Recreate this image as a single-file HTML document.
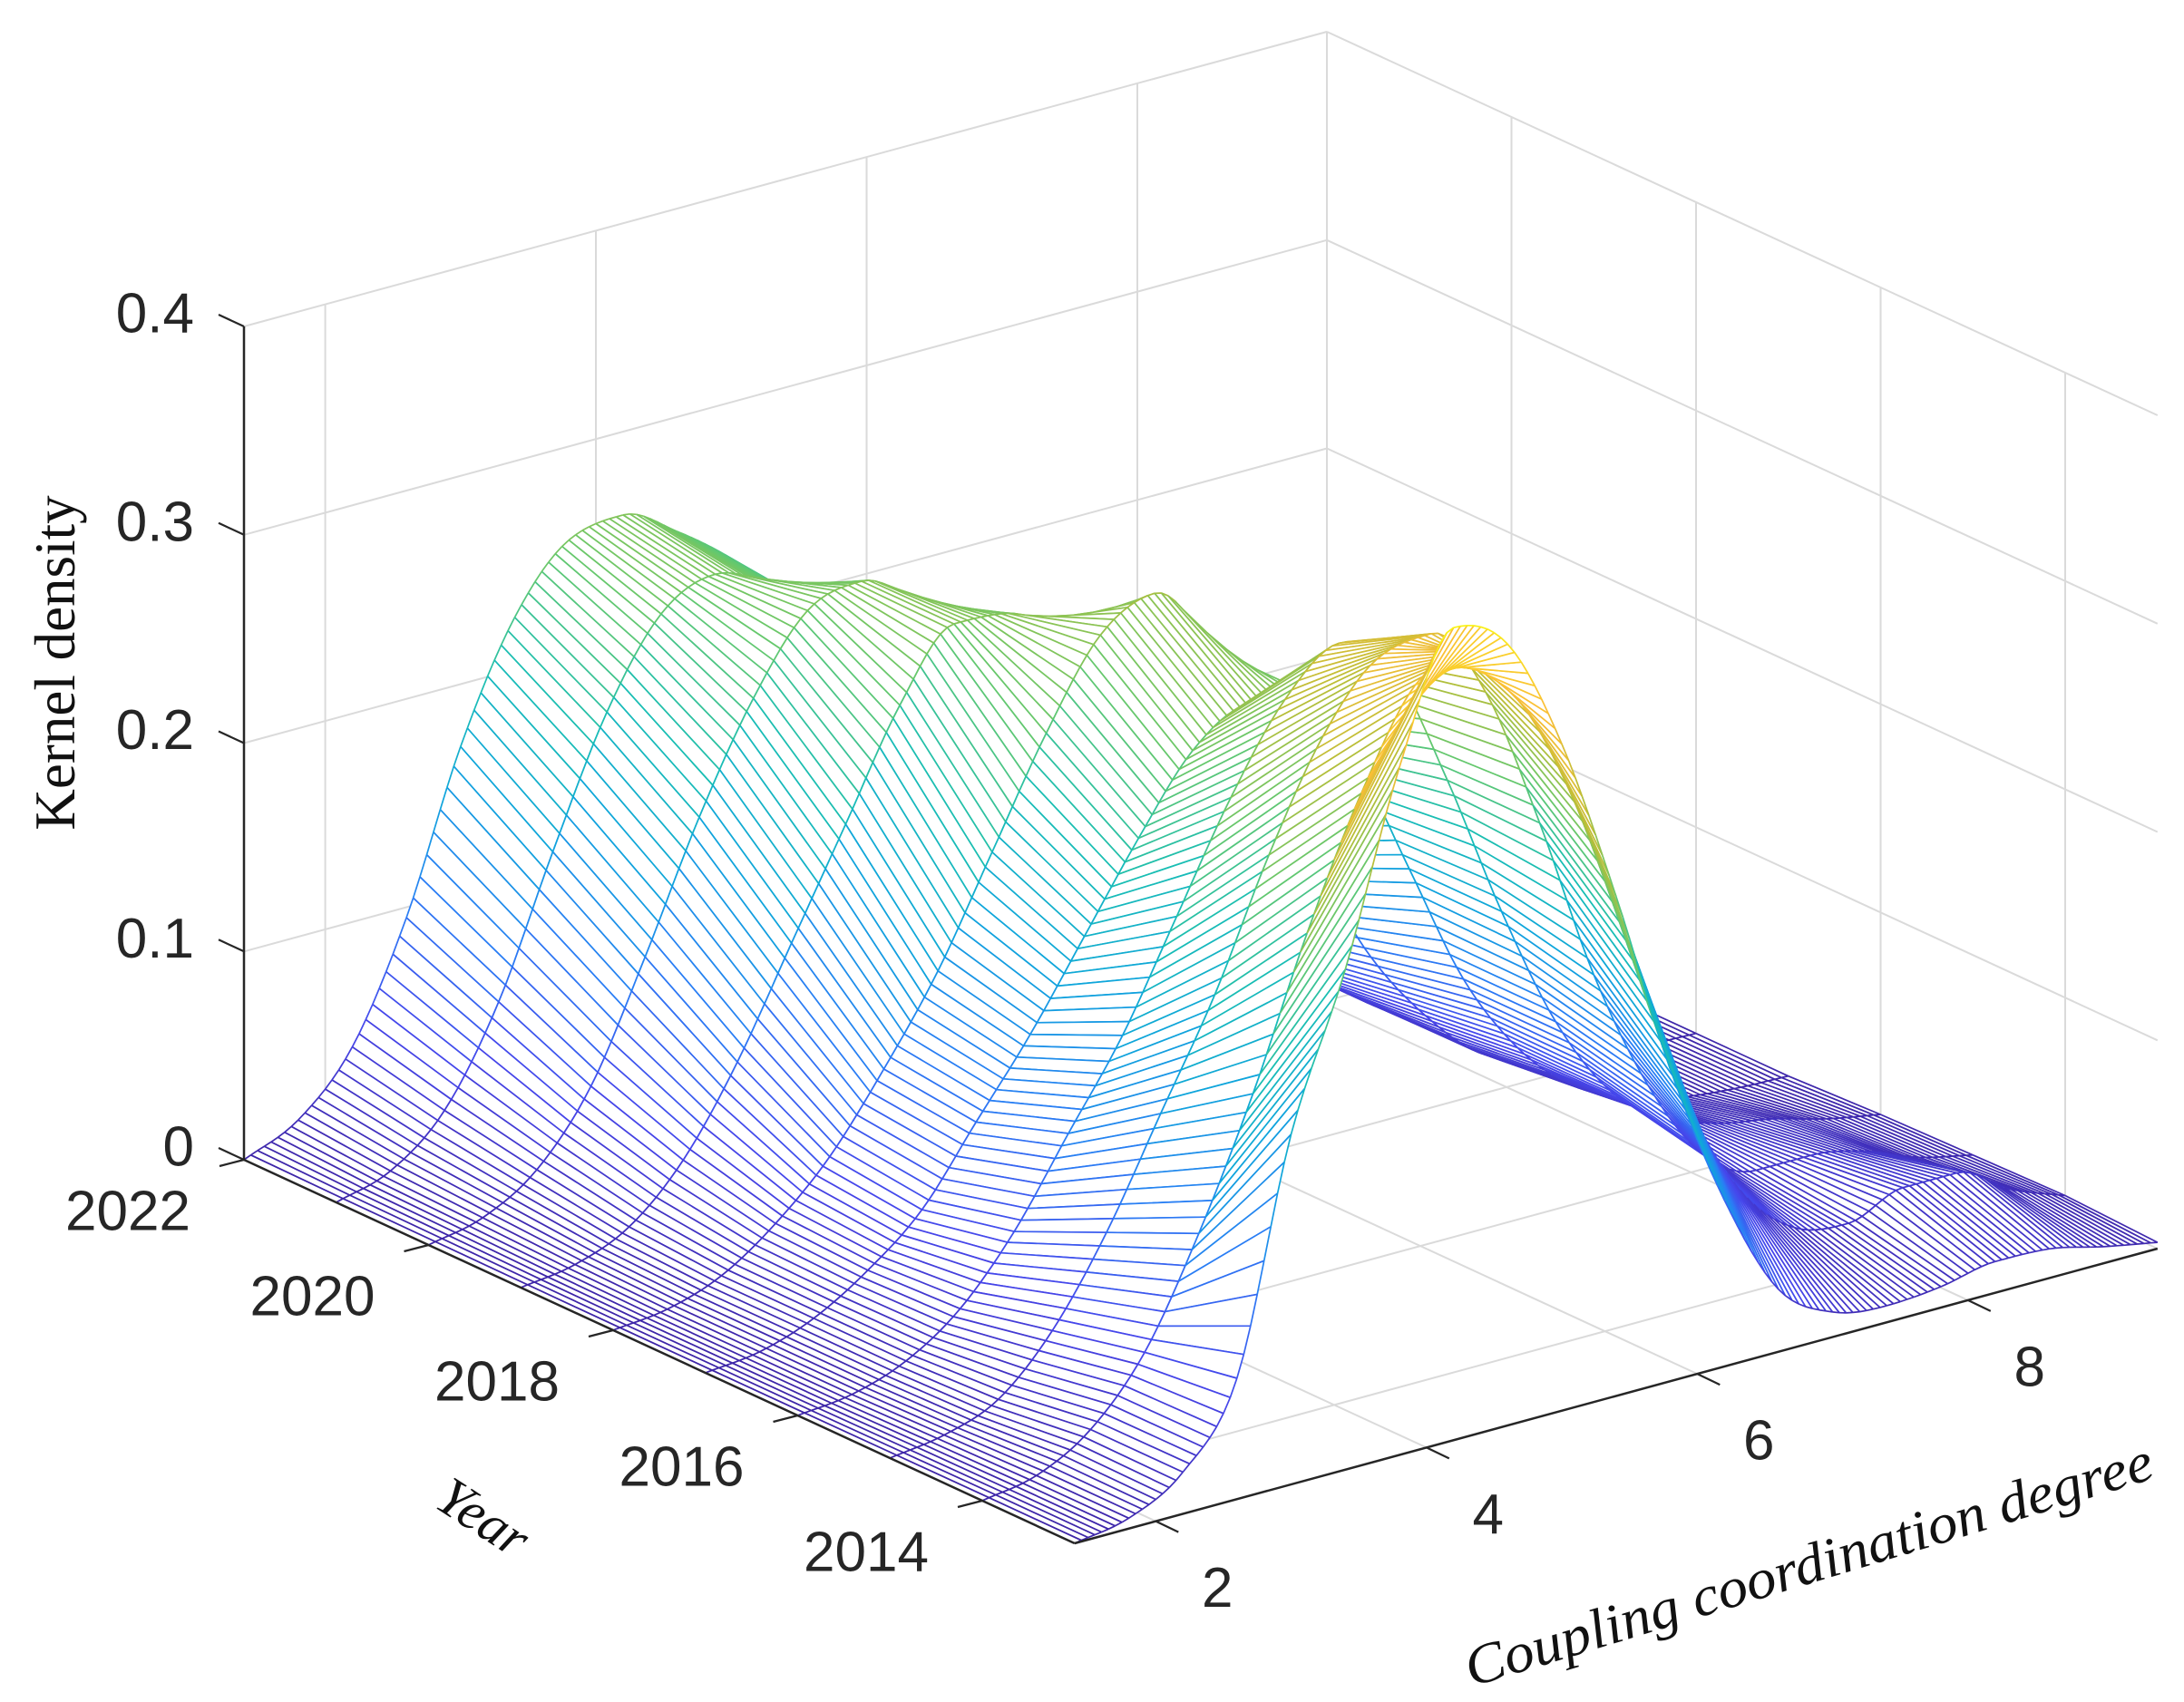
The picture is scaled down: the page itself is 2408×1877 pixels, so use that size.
<!DOCTYPE html>
<html>
<head>
<meta charset="utf-8">
<style>
  html,body{margin:0;padding:0;background:#fff;}
  svg{display:block;}
  .tick{font-family:"Liberation Sans",Arial,sans-serif;font-size:62px;fill:#262626;}
  .lab{font-family:"Liberation Serif","Times New Roman",serif;fill:#111;}
</style>
</head>
<body>
<svg id="chart" xmlns="http://www.w3.org/2000/svg" width="2408" height="1877" viewBox="0 0 2408 1877">
  <rect x="0" y="0" width="2408" height="1877" fill="#fff"/>
  <g id="grid"></g>
  <g id="surface"></g>
  <g id="axes"></g>
  <g id="ticklabels"></g>
  <text class="lab" x="0" y="0" font-size="63" text-anchor="middle" transform="translate(82,731) rotate(-90)">Kernel density</text>
  <text class="lab" x="0" y="0" font-size="60" font-style="italic" text-anchor="middle" transform="translate(522,1690) rotate(33)">Year</text>
  <text class="lab" x="0" y="0" font-size="62" font-style="italic" text-anchor="middle" textLength="790" lengthAdjust="spacingAndGlyphs" transform="translate(2000,1745) rotate(-17)">Coupling coordination degree</text>
</svg>
<script>
// ---- data ----
const years = [2022, 2021, 2020, 2019, 2018, 2017, 2016, 2015, 2014, 2013];
const xs = [1.4, 1.8, 2.2, 2.6, 3.0, 3.4, 3.8, 4.2, 4.6, 5.0, 5.4, 5.8, 6.2, 6.6, 7.0, 7.4, 7.8, 8.2, 8.6, 9.0, 9.4];
const d2022 = [0, 0.012, 0.04, 0.095, 0.17, 0.225, 0.255, 0.26, 0.245, 0.225, 0.2, 0.17, 0.13, 0.09, 0.055, 0.03, 0.015, 0.008, 0.004, 0.002, 0.001];
const d2021 = [0, 0.008, 0.03, 0.075, 0.14, 0.2, 0.24, 0.252, 0.24, 0.22, 0.2, 0.17, 0.13, 0.09, 0.06, 0.035, 0.02, 0.01, 0.005, 0.002, 0.001];
const d2020 = [0, 0.006, 0.022, 0.055, 0.11, 0.17, 0.22, 0.255, 0.262, 0.245, 0.22, 0.19, 0.15, 0.11, 0.07, 0.04, 0.02, 0.01, 0.005, 0.002, 0.001];
const d2019 = [0, 0.004, 0.015, 0.04, 0.08, 0.13, 0.18, 0.23, 0.262, 0.26, 0.24, 0.2, 0.16, 0.11, 0.07, 0.04, 0.02, 0.01, 0.005, 0.002, 0.001];
const d2018 = [0, 0.003, 0.012, 0.03, 0.055, 0.09, 0.13, 0.18, 0.23, 0.27, 0.283, 0.25, 0.19, 0.13, 0.08, 0.045, 0.02, 0.01, 0.005, 0.002, 0.001];
const d2017 = [0, 0.003, 0.012, 0.028, 0.05, 0.085, 0.12, 0.16, 0.2, 0.235, 0.25, 0.25, 0.21, 0.15, 0.09, 0.05, 0.025, 0.012, 0.005, 0.002, 0.001];
const d2016 = [0, 0.003, 0.012, 0.03, 0.06, 0.1, 0.14, 0.19, 0.24, 0.28, 0.3, 0.28, 0.22, 0.15, 0.09, 0.05, 0.03, 0.02, 0.015, 0.008, 0.003];
const d2015 = [0, 0.004, 0.014, 0.04, 0.08, 0.13, 0.18, 0.24, 0.29, 0.32, 0.325, 0.29, 0.22, 0.14, 0.08, 0.04, 0.025, 0.025, 0.02, 0.01, 0.004];
const d2014 = [0, 0.005, 0.02, 0.05, 0.1, 0.16, 0.23, 0.29, 0.335, 0.344, 0.32, 0.26, 0.18, 0.1, 0.05, 0.025, 0.02, 0.03, 0.03, 0.015, 0.005];
const d2013 = [0, 0.005, 0.02, 0.058, 0.168, 0.24, 0.33, 0.39, 0.375, 0.32, 0.24, 0.15, 0.08, 0.03, 0.012, 0.008, 0.01, 0.015, 0.014, 0.008, 0.003];
const density = [d2022, d2021, d2020, d2019, d2018, d2017, d2016, d2015, d2014, d2013];
const zTicks = [0, 0.1, 0.2, 0.3, 0.4];
const zTickLabels = ["0", "0.1", "0.2", "0.3", "0.4"];
const yearTicks = [2022, 2020, 2018, 2016, 2014];
const yearTickLabels = ["2022", "2020", "2018", "2016", "2014"];
const xTicks = [2, 4, 6, 8];
const xTickLabels = ["2", "4", "6", "8"];

// ---- projection ----
const XMIN = 1.4, XMAX = 9.4, YEAR0 = 2022, YEAR_END = 2013, ZMAX = 0.4;
const O = [269, 1279];
const EX = [1194, -325];
const EY = [101.75, 47];
const EZ = 2297.5;
function proj(x, yr, z) {
  const f = (x - XMIN) / (XMAX - XMIN);
  const t = YEAR0 - yr;
  return [O[0] + f * EX[0] + t * EY[0], O[1] + f * EX[1] + t * EY[1] - z * EZ];
}
const NS = "http://www.w3.org/2000/svg";
function mk(tag, parent, attrs) {
  const el = document.createElementNS(NS, tag);
  for (const k in attrs) el.setAttribute(k, attrs[k]);
  parent.appendChild(el);
  return el;
}
function line(parent, a, b, stroke, w, name) {
  const el = mk("line", parent, {x1: a[0].toFixed(1), y1: a[1].toFixed(1), x2: b[0].toFixed(1), y2: b[1].toFixed(1), stroke: stroke, "stroke-width": w});
  
  
  return el;
}

// ---- grid ----
const grid = document.getElementById("grid");
const GC = "#dadada", GW = 2;
zTicks.forEach(z => { if (z > 0) line(grid, proj(XMIN, YEAR0, z), proj(XMAX, YEAR0, z), GC, GW, 'back-wall-gridline'); });
xTicks.concat([XMAX]).forEach(x => line(grid, proj(x, YEAR0, 0), proj(x, YEAR0, ZMAX), GC, GW, 'back-wall-gridline'));
zTicks.forEach(z => line(grid, proj(XMAX, YEAR0, z), proj(XMAX, YEAR_END, z), GC, GW, 'side-wall-gridline'));
yearTicks.forEach(y => line(grid, proj(XMAX, y, 0), proj(XMAX, y, ZMAX), GC, GW, 'side-wall-gridline'));
xTicks.forEach(x => line(grid, proj(x, YEAR0, 0), proj(x, YEAR_END, 0), GC, GW, 'floor-gridline'));
yearTicks.forEach(y => line(grid, proj(XMIN, y, 0), proj(XMAX, y, 0), GC, GW, 'floor-gridline'));

// ---- colormap (parula-like) ----
const cmapStops = [
  [0.00, [62, 38, 168]], [0.12, [70, 70, 235]], [0.25, [42, 125, 245]], [0.38, [15, 165, 220]],
  [0.50, [25, 190, 180]], [0.62, [100, 200, 110]], [0.75, [185, 190, 55]], [0.87, [250, 190, 55]], [1.00, [249, 245, 20]]
];
function cmap(v) {
  v = Math.max(0, Math.min(1, v));
  for (let i = 1; i < cmapStops.length; i++) {
    if (v <= cmapStops[i][0]) {
      const a = cmapStops[i - 1], b = cmapStops[i];
      const u = (v - a[0]) / (b[0] - a[0]);
      const c = a[1].map((q, k) => Math.round(q + (b[1][k] - q) * u));
      return "rgb(" + c.join(",") + ")";
    }
  }
  return "rgb(249,245,20)";
}

// ---- monotone cubic interpolation for drawing smooth profiles ----
function monotone(xv, yv) {
  const n = xv.length, d = [], m = new Array(n);
  for (let i = 0; i < n - 1; i++) d.push((yv[i + 1] - yv[i]) / (xv[i + 1] - xv[i]));
  m[0] = d[0]; m[n - 1] = d[n - 2];
  for (let i = 1; i < n - 1; i++) m[i] = (d[i - 1] * d[i] <= 0) ? 0 : (d[i - 1] + d[i]) / 2;
  for (let i = 0; i < n - 1; i++) {
    if (d[i] === 0) { m[i] = 0; m[i + 1] = 0; continue; }
    const a = m[i] / d[i], b = m[i + 1] / d[i], s = a * a + b * b;
    if (s > 9) { const tt = 3 / Math.sqrt(s); m[i] = tt * a * d[i]; m[i + 1] = tt * b * d[i]; }
  }
  return function (x) {
    let i = Math.min(n - 2, Math.max(0, Math.floor((x - xv[0]) / (xv[1] - xv[0]))));
    const h = xv[i + 1] - xv[i], t = (x - xv[i]) / h;
    const h00 = 2 * t * t * t - 3 * t * t + 1, h10 = t * t * t - 2 * t * t + t, h01 = -2 * t * t * t + 3 * t * t, h11 = t * t * t - t * t;
    return Math.max(0, h00 * yv[i] + h10 * h * m[i] + h01 * yv[i + 1] + h11 * h * m[i + 1]);
  };
}

// ---- surface ----
const surface = document.getElementById("surface");
let cmax = 0;
density.forEach(r => r.forEach(v => { if (v > cmax) cmax = v; }));
const STEP = 0.05;
const fx = [];
for (let x = xs[0]; x <= xs[xs.length - 1] + 1e-9; x += STEP) fx.push(x);
const Z = density.map(r => { const f = monotone(xs, r); return fx.map(x => f(x)); });
const quads = [];
for (let t = 0; t < years.length - 1; t++) {
  for (let j = 0; j < fx.length - 1; j++) {
    const fc = ((fx[j] + fx[j + 1]) / 2 - XMIN) / (XMAX - XMIN);
    quads.push({t: t, j: j, key: 47 * (t + 0.5) - 325 * fc});
  }
}
quads.sort((a, b) => a.key - b.key);
const LW = 1.7;
quads.forEach(q => {
  const t = q.t, j = q.j;
  const y0 = years[t], y1 = years[t + 1];
  const p00 = proj(fx[j], y0, Z[t][j]), p01 = proj(fx[j + 1], y0, Z[t][j + 1]);
  const p10 = proj(fx[j], y1, Z[t + 1][j]), p11 = proj(fx[j + 1], y1, Z[t + 1][j + 1]);
  const poly = document.createElementNS(NS, "polygon");
  poly.setAttribute("points", [p00, p01, p11, p10].map(p => p[0].toFixed(1) + "," + p[1].toFixed(1)).join(" "));
  poly.setAttribute("fill", "#fff");
  
  
  surface.appendChild(poly);
  const rc = cmap(((Z[t][j] + Z[t + 1][j] + Z[t][j + 1] + Z[t + 1][j + 1]) / 4) / cmax);
  const rung = document.createElementNS(NS, "path");
  rung.setAttribute("d", "M" + p00[0].toFixed(1) + " " + p00[1].toFixed(1) + "L" + p10[0].toFixed(1) + " " + p10[1].toFixed(1) +
    "M" + p01[0].toFixed(1) + " " + p01[1].toFixed(1) + "L" + p11[0].toFixed(1) + " " + p11[1].toFixed(1));
  rung.setAttribute("stroke", rc);
  rung.setAttribute("stroke-width", LW);
  rung.setAttribute("fill", "none");
  
  
  surface.appendChild(rung);
  line(surface, p00, p01, cmap(((Z[t][j] + Z[t][j + 1]) / 2) / cmax), LW, 'year-profile-segment');
  line(surface, p10, p11, cmap(((Z[t + 1][j] + Z[t + 1][j + 1]) / 2) / cmax), LW, 'year-profile-segment');
});

// ---- axes ----
const axes = document.getElementById("axes");
const AC = "#262626";
line(axes, proj(XMIN, YEAR0, 0), proj(XMIN, YEAR0, ZMAX), AC, 2.5, 'z-axis-line');
line(axes, proj(XMIN, YEAR0, 0), proj(XMIN, YEAR_END, 0), AC, 2.5, 'year-axis-line');
line(axes, proj(XMIN, YEAR_END, 0), proj(XMAX, YEAR_END, 0), AC, 2.5, 'x-axis-line');
const tl = document.getElementById("ticklabels");
function txt(x, y, s, anchor, name) {
  const el = document.createElementNS(NS, "text");
  el.setAttribute("x", x.toFixed(1));
  el.setAttribute("y", y.toFixed(1));
  el.setAttribute("class", "tick");
  el.setAttribute("text-anchor", anchor);
  el.setAttribute("dominant-baseline", "central");
  el.textContent = s;
  
  
  tl.appendChild(el);
}
zTicks.forEach((z, i) => {
  const p = proj(XMIN, YEAR0, z);
  line(axes, p, [p[0] - 28, p[1] - 13], AC, 2.2, 'z-tick-mark');
  txt(p[0] - 55, p[1] - 14, zTickLabels[i], "end", 'z-tick-label');
});
yearTicks.forEach((y, i) => {
  const p = proj(XMIN, y, 0);
  line(axes, p, [p[0] - 27, p[1] + 7], AC, 2.2, 'year-tick-mark');
  txt(p[0] - 128, p[1] + 57, yearTickLabels[i], "middle", 'year-tick-label');
});
xTicks.forEach((x, i) => {
  const p = proj(x, YEAR_END, 0);
  line(axes, p, [p[0] + 25, p[1] + 12], AC, 2.2, 'x-tick-mark');
  txt(p[0] + 68, p[1] + 74, xTickLabels[i], "middle", 'x-tick-label');
});
</script>
</body>
</html>
